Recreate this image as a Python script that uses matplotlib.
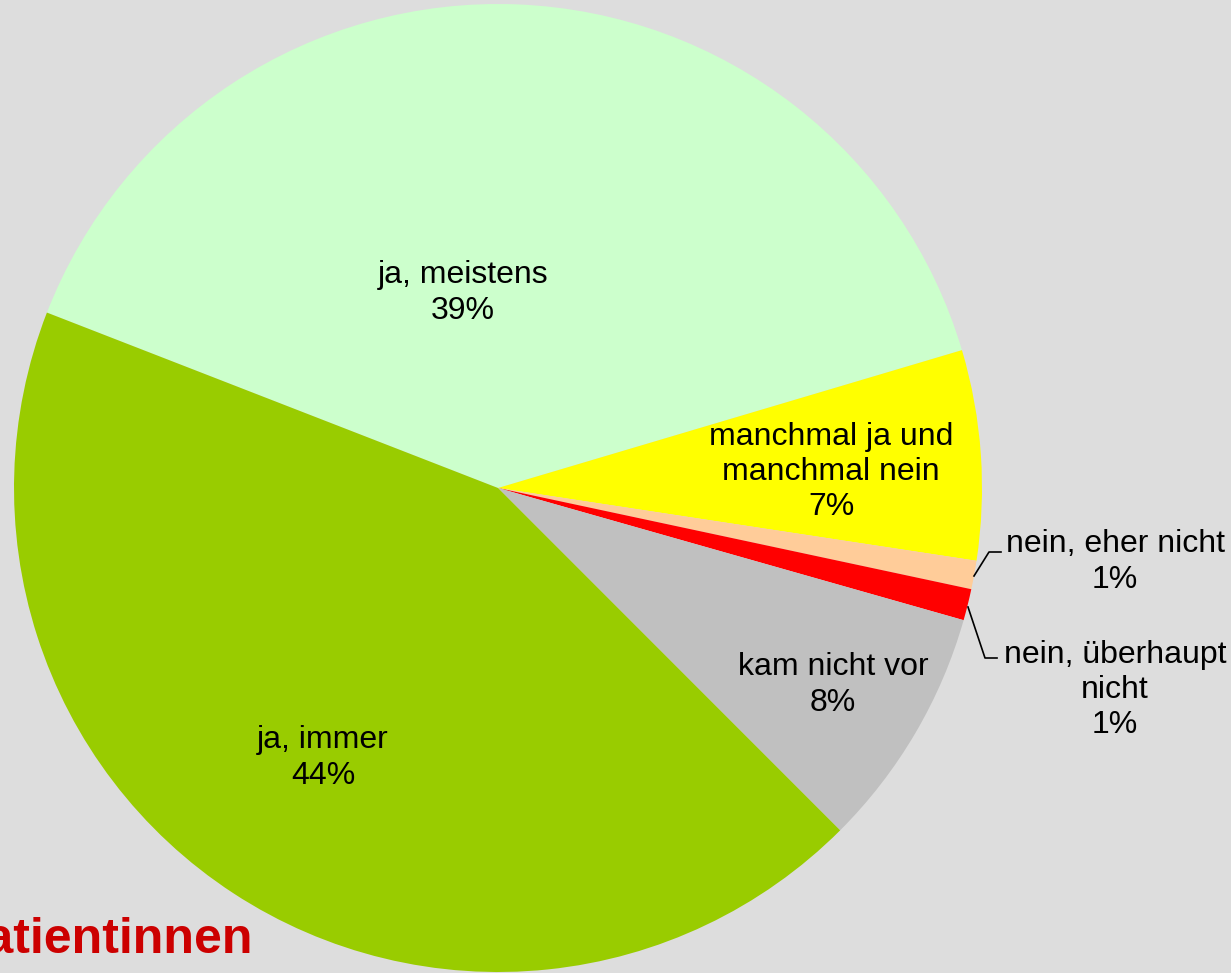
import matplotlib.pyplot as plt

# slices, clockwise from the ja, meistens / ja, immer border
categories = ['ja, meistens', 'manchmal ja und\nmanchmal nein', 'nein, eher nicht',
              'nein, überhaupt\nnicht', 'kam nicht vor', 'ja, immer']
values = [39.5, 7.0, 0.95, 1.05, 8.1, 43.4]
pct_labels = [39, 7, 1, 1, 8, 44]
colors = ['#CCFFCC', '#FFFF00', '#FFCC99', '#FF0000', '#C0C0C0', '#99CC00']

plt.rcParams['font.family'] = ['Liberation Sans', 'DejaVu Sans']

W, H = 1231, 973
fig = plt.figure(figsize=(W / 100, H / 100), dpi=100)
fig.patch.set_facecolor('#DDDDDD')

# pie centre (498, 488) px, radius 484 px
cx, cy, r = 498, 488, 484
ax = fig.add_axes([(cx - r) / W, (H - cy - r) / H, 2 * r / W, 2 * r / H])
ax.pie(values, colors=colors, startangle=158.75, counterclock=False,
       radius=1, wedgeprops=dict(linewidth=0))
ax.set_xlim(-1, 1)
ax.set_ylim(-1, 1)
ax.set_aspect('equal')
ax.axis('off')


def px(x, y):
    return (x - cx) / r, (cy - y) / r


label_pos = [(463, 293), (831, 472), (1115, 562), (1115, 690), (833, 685), (323, 758)]
for cat, p, pos in zip(categories, pct_labels, label_pos):
    ax.text(*px(*pos), f'{cat}\n{p}%', ha='center', va='center',
            fontsize=23, linespacing=1.22, color='black', clip_on=False)

# leader lines for the small slices
for pts in [[(974, 576), (989, 552), (1001, 552)],
            [(968, 607), (985, 658), (997, 658)]]:
    xs, ys = zip(*[px(*q) for q in pts])
    ax.plot(xs, ys, color='black', lw=1.2, clip_on=False)

fig.text(253 / W, (H - 953) / H, 'Patientinnen', ha='right', va='baseline',
         fontsize=36, fontweight='bold', color='#CC0000')

fig.savefig('out.png', dpi=100, facecolor=fig.get_facecolor())
